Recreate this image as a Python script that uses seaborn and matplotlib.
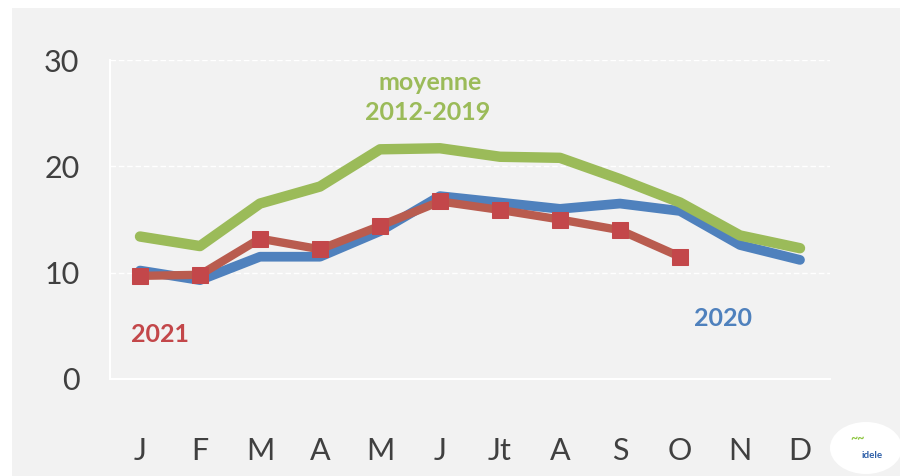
import matplotlib.pyplot as plt
import seaborn as sns
import pandas as pd
from matplotlib.patches import Rectangle, Ellipse

# data
mois = ["J", "F", "M", "A", "M", "J", "Jt", "A", "S", "O", "N", "D"]
moyenne_2012_2019 = [13.4, 12.5, 16.5, 18.1, 21.6, 21.7, 20.9, 20.8, 18.8, 16.6, 13.5, 12.3]
annee_2020 = [10.2, 9.3, 11.5, 11.5, 13.9, 17.2, 16.6, 16.0, 16.5, 15.8, 12.6, 11.2]
annee_2021 = [9.7, 9.8, 13.2, 12.2, 14.4, 16.7, 15.9, 15.0, 14.0, 11.5]

vert = "#9BBB59"
bleu = "#4F81BD"
rouge_ligne = "#B95C4F"
rouge_point = "#C3474A"
gris = "#404040"
fond = "#F2F2F2"

sns.set_style("white")
plt.rcParams["font.family"] = ["Lato", "DejaVu Sans"]

fig = plt.figure(figsize=(9, 4.76), dpi=100, facecolor="white")
fig.patches.append(Rectangle((12 / 900, 0), 1, 1 - 8 / 476, transform=fig.transFigure,
                             facecolor=fond, edgecolor="none", zorder=-10))
ax = fig.add_axes([110 / 900, 1 - 379 / 476, 720 / 900, 319 / 476])
ax.set_facecolor(fond)

x = list(range(len(mois)))
df_moy = pd.DataFrame({"x": x, "v": moyenne_2012_2019})
df_20 = pd.DataFrame({"x": x, "v": annee_2020})
df_21 = pd.DataFrame({"x": x[:len(annee_2021)], "v": annee_2021})

sns.lineplot(data=df_20, x="x", y="v", color=bleu, lw=7, ax=ax, zorder=3)
sns.lineplot(data=df_moy, x="x", y="v", color=vert, lw=7.5, ax=ax, zorder=3)
sns.lineplot(data=df_21, x="x", y="v", color=rouge_ligne, lw=6, ax=ax, zorder=4,
             marker="s", markersize=11, markerfacecolor=rouge_point,
             markeredgecolor=rouge_point)

ax.set_xlim(-0.5, 11.5)
ax.set_ylim(0, 30)
ax.set_xlabel("")
ax.set_ylabel("")

ax.set_yticks([0, 10, 20, 30])
ax.set_yticklabels(["0", "10", "20", "30"])
ax.tick_params(axis="y", length=0, pad=22, labelsize=22, labelcolor=gris)
for v in [10, 20, 30]:
    ax.axhline(v, color="white", lw=1, ls=(0, (4, 2)), zorder=1)

ax.set_xticks(x)
ax.set_xticklabels(mois)
ax.tick_params(axis="x", which="major", length=0, pad=42, labelsize=22, labelcolor=gris)
ax.set_xticks([i - 0.5 for i in range(13)], minor=True)
ax.tick_params(axis="x", which="minor", length=8, width=1.5, color="white", direction="out")

for s in ["top", "right"]:
    ax.spines[s].set_visible(False)
for s in ["left", "bottom"]:
    ax.spines[s].set_color("white")
    ax.spines[s].set_linewidth(1.5)

ax.text(4.83, 27.9, "moyenne", color=vert, fontsize=18, fontweight="bold",
        ha="center", va="center")
ax.text(4.79, 25.1, "2012-2019", color=vert, fontsize=18, fontweight="bold",
        ha="center", va="center")
ax.text(0.33, 4.2, "2021", color=rouge_point, fontsize=18, fontweight="bold",
        ha="center", va="center")
ax.text(9.72, 5.7, "2020", color=bleu, fontsize=18, fontweight="bold",
        ha="center", va="center")

# logo approximation
fig.patches.append(Ellipse((866 / 900, 1 - 448 / 476), 72 / 900, 52 / 476,
                           transform=fig.transFigure, facecolor="white",
                           edgecolor="none", zorder=1))
fig.text(872 / 900, 1 - 455 / 476, "idele", color="#2E5FA8", fontsize=7,
         fontweight="bold", ha="center", va="center")
fig.text(858 / 900, 1 - 438 / 476, "~~", color="#8DC63F", fontsize=9,
         fontweight="bold", ha="center", va="center")

fig.savefig("out.png", dpi=100, facecolor=fig.get_facecolor())
